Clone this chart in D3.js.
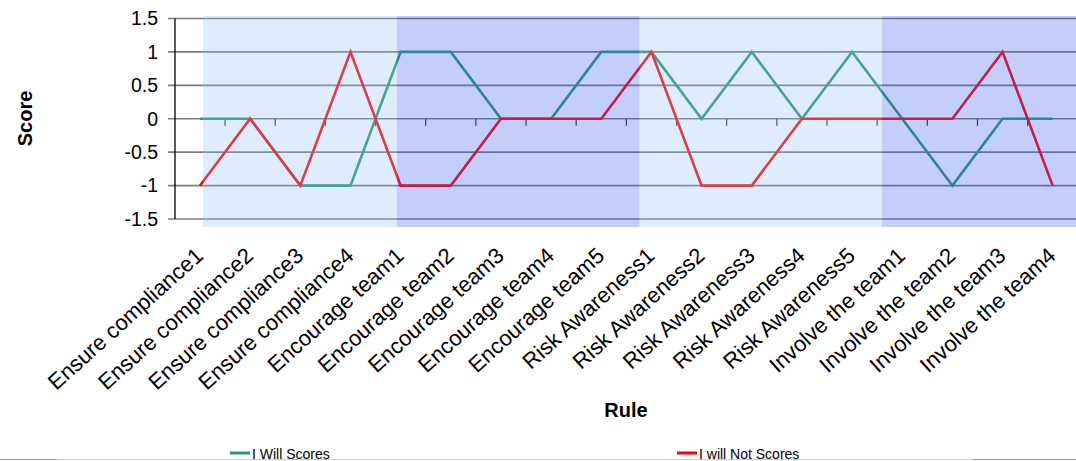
<!DOCTYPE html>
<html>
<head>
<meta charset="utf-8">
<script src="https://cdn.jsdelivr.net/npm/d3@7"></script>
<style>
  html, body { margin: 0; padding: 0; background: #fff; }
  svg { display: block; font-family: "Liberation Sans", Arial, sans-serif; }
</style>
</head>
<body>
<svg id="chart" width="1076" height="461"></svg>
<script>
// Rule names along the x axis
const rules = [
  "Ensure compliance1", "Ensure compliance2", "Ensure compliance3", "Ensure compliance4",
  "Encourage team1", "Encourage team2", "Encourage team3", "Encourage team4", "Encourage team5",
  "Risk Awareness1", "Risk Awareness2", "Risk Awareness3", "Risk Awareness4", "Risk Awareness5",
  "Involve the team1", "Involve the team2", "Involve the team3", "Involve the team4"
];
// Scores per rule
const willScores    = [0, 0, -1, -1, 1, 1, 0, 0, 1, 1, 0, 1, 0, 1, 0, -1, 0, 0];
const willNotScores = [-1, 0, -1, 1, -1, -1, 0, 0, 0, 1, -1, -1, 0, 0, 0, 0, 1, -1];
// Number of rules in each rule group (shaded bands)
const groupSizes = [4, 5, 5, 4];
// Y axis ticks
const yTicks = [-1.5, -1, -0.5, 0, 0.5, 1, 1.5];

const seriesNames = ["I Will Scores", "I will Not Scores"];
const seriesColors = ["#2a9964", "#ff0000"];

const svg = d3.select("#chart");
const W = 1076;

const x = d3.scalePoint().domain(rules).range([200, 1052.7]);
const step = x.step();
const y = d3.scaleLinear().domain([-1.5, 1.5]).range([219, 18.5]);
const bandX = d3.scaleLinear().domain([0, d3.sum(groupSizes)]).range([203, W]);

const axisX = 175;

// Gridlines
svg.append("g").selectAll("line").data(yTicks).join("line")
  .attr("x1", axisX - 7).attr("x2", W)
  .attr("y1", d => y(d)).attr("y2", d => y(d))
  .attr("stroke", "#7c7c7c").attr("stroke-width", 1.6);

// Y axis line
svg.append("line")
  .attr("x1", axisX).attr("x2", axisX)
  .attr("y1", y(1.5)).attr("y2", y(-1.5))
  .attr("stroke", "#000").attr("stroke-width", 1.3);

// Category tick marks on the zero line, between rules
const tickPos = rules.slice(1).map(r => x(r) - step / 2);
svg.append("g").selectAll("line").data(tickPos).join("line")
  .attr("x1", d => d).attr("x2", d => d)
  .attr("y1", y(0)).attr("y2", y(0) + 7)
  .attr("stroke", "#333").attr("stroke-width", 1.2);

// Series lines
const line = d3.line().x((d, i) => x(rules[i])).y(d => y(d));
[willScores, willNotScores].forEach((vals, k) => {
  svg.append("path")
    .datum(vals)
    .attr("d", line)
    .attr("fill", "none")
    .attr("stroke", seriesColors[k])
    .attr("stroke-width", 2.6)
    .attr("stroke-linejoin", "miter");
});

// Translucent rule-group bands laid over the plot
const bandColors = ["rgba(145,192,245,0.3)", "rgba(55,95,238,0.3)"];
let acc = 0;
const bands = groupSizes.map((n, i) => {
  const b = { start: acc, end: acc + n, i };
  acc += n;
  return b;
});
svg.append("g").selectAll("rect").data(bands).join("rect")
  .attr("x", d => bandX(d.start))
  .attr("width", d => bandX(d.end) - bandX(d.start))
  .attr("y", y(1.5) - 2.5)
  .attr("height", y(-1.5) - y(1.5) + 10.5)
  .attr("fill", d => bandColors[d.i % 2]);

// Y tick labels
svg.append("g").selectAll("text").data(yTicks).join("text")
  .attr("x", 158).attr("y", d => y(d))
  .attr("dy", "0.35em")
  .attr("text-anchor", "end")
  .attr("font-size", 19.5)
  .attr("fill", "#000")
  .text(d => String(d));

// X labels, rotated
svg.append("g").selectAll("text").data(rules).join("text")
  .attr("transform", d => `translate(${x(d) + 4.5},${257.5}) rotate(-42)`)
  .attr("text-anchor", "end")
  .attr("font-size", 22)
  .attr("fill", "#000")
  .text(d => d);

// Axis titles
svg.append("text")
  .attr("transform", "translate(32,118.5) rotate(-90)")
  .attr("text-anchor", "middle")
  .attr("font-size", 20).attr("font-weight", "bold")
  .text("Score");
svg.append("text")
  .attr("x", 626).attr("y", 417)
  .attr("text-anchor", "middle")
  .attr("font-size", 20).attr("font-weight", "bold")
  .text("Rule");

// Bottom rule
svg.append("line").attr("x1", 0).attr("x2", W).attr("y1", 459.5).attr("y2", 459.5)
  .attr("stroke", "#cfcfcf").attr("stroke-width", 1);
svg.append("line").attr("x1", 0).attr("x2", 57).attr("y1", 459.5).attr("y2", 459.5)
  .attr("stroke", "#9a9a9a").attr("stroke-width", 1);
svg.append("line").attr("x1", 973).attr("x2", W).attr("y1", 459.5).attr("y2", 459.5)
  .attr("stroke", "#9a9a9a").attr("stroke-width", 1);

// Legend
const legendX = [230, 677];
const lg = svg.append("g").selectAll("g").data(seriesNames).join("g")
  .attr("transform", (d, i) => `translate(${legendX[i]},453)`);
lg.append("line").attr("x1", 0).attr("x2", 20).attr("y1", 0).attr("y2", 0)
  .attr("stroke", (d, i) => seriesColors[i]).attr("stroke-width", 3);
lg.append("text").attr("x", 22).attr("y", 5.5)
  .attr("font-size", 14).attr("fill", "#000")
  .text(d => d);
</script>
</body>
</html>
